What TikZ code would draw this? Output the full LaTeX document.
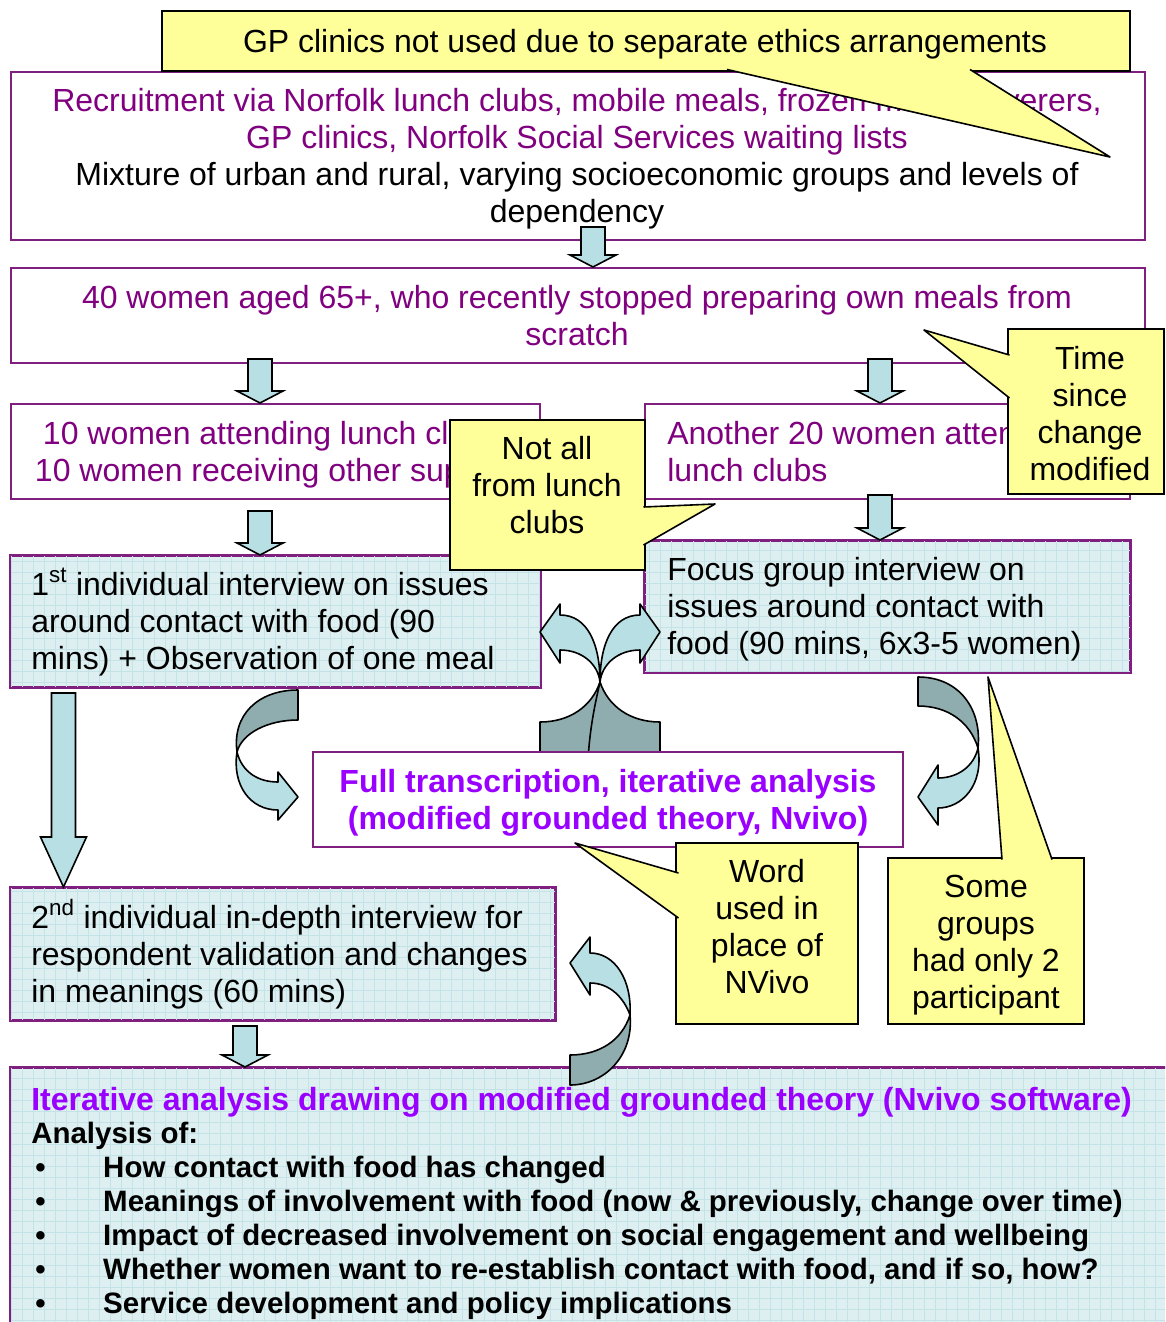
\documentclass[tikz,border=0pt]{standalone}
\usepackage{fontspec}
\setmainfont{Liberation Sans}
\usepackage{tikz}
\usetikzlibrary{calc}
\definecolor{boxpurple}{HTML}{7F1F7F}
\definecolor{textpurple}{HTML}{800080}
\definecolor{brightviolet}{HTML}{9900FF}
\definecolor{gridcyan}{HTML}{DDEFF0}
\definecolor{gridink}{HTML}{C4E3E6}
\definecolor{arrowlight}{HTML}{B8DFE3}
\definecolor{arrowdark}{HTML}{8FADAF}
\definecolor{noteyellow}{HTML}{FFFF99}
% block arrow pointing down, from #2 to #3 (#1 = head length)
\newcommand{\fatdown}[3][9pt]{%
  \path[fatarrow] let \p1=#2, \p2=#3 in
    (\x1-9pt,\y1) -- (\x1+9pt,\y1) -- (\x1+9pt,\y2+#1) -- (\x1+17.25pt,\y2+#1)
    -- (\x1,\y2) -- (\x1-17.25pt,\y2+#1) -- (\x1-9pt,\y2+#1) -- cycle;
}
% squared paper inside a box
\newcommand{\gridlines}[1]{%
  \begin{scope}
    \clip (#1.south west) rectangle (#1.north east);
    \draw[gridrule] (#1.south west) grid[step=8.25pt] (#1.north east);
  \end{scope}
  \draw[boxpurple, line width=1.5pt] (#1.south west) rectangle (#1.north east);
}
% speech bubble tail: base, tip, base
\newcommand{\notepointer}[3]{%
  \fill[noteyellow] #1 -- #2 -- #3 -- cycle;
  \draw[black, line width=1.2pt, line join=round] #1 -- #2 -- #3;
}
\newcommand{\bul}{\makebox[54pt][l]{\hspace{3pt}\textbullet}}

\begin{document}
\begin{tikzpicture}[
  x=0.75pt, y=-0.75pt,
  every node/.style={font=\fontsize{24pt}{27.75pt}\selectfont, inner sep=0pt},
  plainbox/.style={rectangle, draw=boxpurple, line width=1.5pt, fill=white},
  gridbox/.style={rectangle, draw=boxpurple, line width=1.5pt, fill=gridcyan},
  notebox/.style={rectangle, draw=black, line width=1.2pt, fill=noteyellow},
  notetext/.style={align=center, anchor=base},
  lefttext/.style={align=left, anchor=base west},
  fatarrow/.style={draw=black, line width=1.2pt, fill=arrowlight},
  bandlight/.style={draw=black, line width=1.2pt, fill=arrowlight, line join=round},
  banddark/.style={draw=black, line width=1.2pt, fill=arrowdark, line join=round},
  gridrule/.style={draw=gridink, line width=0.5pt}
]
\useasboundingbox (0,0) rectangle (1165,1322);
\clip (0,0) rectangle (1165,1322);

% boxes (text nodes sit on the baseline of their last line)
\node[plainbox, minimum width=850.5pt, minimum height=126pt] (recruit) at (578,156) {};
\node[plainbox, minimum width=850.5pt, minimum height=71.25pt] (women) at (578,315.5) {};
\node[plainbox, minimum width=396.75pt, minimum height=71.25pt] (lunchl) at (275.5,451.5) {};
\node[plainbox, minimum width=363.75pt, minimum height=71.25pt] (another) at (887.5,451.5) {};
\node[gridbox, minimum width=396.75pt, minimum height=98.25pt] (inter1) at (275.5,621.5) {};
\gridlines{inter1}
\node[gridbox, minimum width=363.75pt, minimum height=98.25pt] (focus) at (887.5,606.5) {};
\gridlines{focus}
\node[gridbox, minimum width=408pt, minimum height=99pt] (inter2) at (283,954) {};
\gridlines{inter2}

\node[textpurple, notetext] (recruit-t) at (577,222)
  {Recruitment via Norfolk lunch clubs, mobile meals, frozen meal deliverers,\\
   GP clinics, Norfolk Social Services waiting lists\\
   \textcolor{black}{Mixture of urban and rural, varying socioeconomic groups and levels of}\\
   \textcolor{black}{dependency}};
\node[textpurple, notetext] (women-t) at (577,345)
  {40 women aged 65+, who recently stopped preparing own meals from\\scratch};
\node[textpurple, notetext] (lunchl-t) at (276,481)
  {10 women attending lunch clubs,\\10 women receiving other support};
\node[textpurple, lefttext] (another-t) at (667,481)
  {Another 20 women attending\\lunch clubs};
\node[lefttext] (inter1-t) at (31,669)
  {1\textsuperscript{st} individual interview on issues\\around contact with food (90\\mins) + Observation of one meal};
\node[lefttext] (focus-t) at (667,654)
  {Focus group interview on\\issues around contact with\\food (90 mins, 6x3-5 women)};
\node[lefttext] (inter2-t) at (31,1002)
  {2\textsuperscript{nd} individual in-depth interview for\\respondent validation and changes\\in meanings (60 mins)};

% block arrows
\fatdown{($(recruit.south)+(15,-14)$)}{($(women.north)+(15,0)$)}
\fatdown{($(women.south)+(-318,-5)$)}{($(lunchl.north)+(-15.5,0)$)}
\fatdown{($(women.south)+(302,-5)$)}{($(another.north)+(-7.5,0)$)}
\fatdown{($(lunchl.south)+(-15.5,11)$)}{($(inter1.north)+(-15.5,0)$)}
\fatdown{($(another.south)+(-7.5,-5)$)}{($(focus.north)+(-7.5,0)$)}
\fatdown[37.5pt]{($(inter1.south)+(-212,5)$)}{($(inter2.north)+(-219.5,0)$)}

% crossed arrows towards both interviews
\path[banddark] (600,682) .. controls (592,706) and (570,722) .. (540,722)
  -- (540,760) -- (612,760) .. controls (610,725) and (604,700) .. (600,682) -- cycle;
\path[banddark] (600,682) .. controls (608,706) and (630,722) .. (660,722)
  -- (660,760) -- (588,760) .. controls (590,725) and (596,700) .. (600,682) -- cycle;
\path[bandlight] (540,632) -- (560,604) -- (560,615) .. controls (588,615) and (600,645) .. (600,682)
  .. controls (598,664) and (582,650) .. (560,650) -- (560,663) -- cycle;
\path[bandlight] (660,632) -- (640,604) -- (640,615) .. controls (612,615) and (600,645) .. (600,682)
  .. controls (602,664) and (618,650) .. (640,650) -- (640,663) -- cycle;

% curved arrows into the transcription
\path[banddark] (298,690) -- (298,720) .. controls (268,720) and (242,733) .. (237,752)
  .. controls (232,715) and (258,690) .. (298,690) -- cycle;
\path[bandlight] (237,752) .. controls (242,772) and (258,782) .. (278,782) -- (278,772)
  -- (298,797) -- (278,820) -- (278,810) .. controls (250,810) and (232,785) .. (237,752) -- cycle;
\path[banddark] (918,677) .. controls (960,677) and (982,710) .. (978,748)
  .. controls (970,722) and (948,706) .. (918,706) -- cycle;
\path[bandlight] (978,748) .. controls (984,785) and (962,808) .. (938,808) -- (938,825)
  -- (918,797) -- (938,765) -- (938,778) .. controls (958,778) and (974,766) .. (978,748) -- cycle;

\node[plainbox, minimum width=442.5pt, minimum height=71.25pt] (transcr) at (608,799.5) {};
\node[notetext, text=brightviolet, font=\fontsize{24pt}{27.75pt}\selectfont\bfseries] (transcr-t) at (608,829)
  {Full transcription, iterative analysis\\(modified grounded theory, Nvivo)};

% final analysis
\node[gridbox, minimum width=876.75pt, minimum height=204pt] (analysis) at (595.5,1204) {};
\gridlines{analysis}
\fatdown{($(inter2.south)+(-38,5)$)}{($(analysis.north)+(-350.5,0)$)}
\node[lefttext, text=brightviolet, font=\fontsize{24pt}{27.75pt}\selectfont\bfseries] (analysis-t) at (31,1110)
  {Iterative analysis drawing on modified grounded theory (Nvivo software)};
\node[lefttext, font=\fontsize{22.1pt}{25.5pt}\selectfont\bfseries] (analysis-l) at (31,1313)
  {Analysis of:\\
   \bul How contact with food has changed\\
   \bul Meanings of involvement with food (now \& previously, change over time)\\
   \bul Impact of decreased involvement on social engagement and wellbeing\\
   \bul Whether women want to re-establish contact with food, and if so, how?\\
   \bul Service development and policy implications};

\path[bandlight] (570,963) -- (590,937) -- (590,953) .. controls (615,953) and (632,980) .. (630,1015)
  .. controls (624,998) and (610,983) .. (590,983) -- (590,995) -- cycle;
\path[banddark] (630,1015) .. controls (634,1055) and (605,1085) .. (570,1085)
  -- (570,1055) .. controls (600,1055) and (622,1040) .. (630,1015) -- cycle;

% notes
\node[notebox, minimum width=726pt, minimum height=45pt] (gpnote) at (646,41) {};
\notepointer{(727,69.5)}{(1110,157)}{(970,69.5)}
\node[notetext] (gpnote-t) at (645,52) {GP clinics not used due to separate ethics arrangements};

\node[notebox, minimum width=117pt, minimum height=123.75pt] (timenote) at (1086,411.5) {};
\notepointer{(1009.5,355)}{(924,330)}{(1009.5,398)}
\node[notetext] (timenote-t) at (1090,480) {Time\\since\\change\\modified};

\node[notebox, minimum width=146.25pt, minimum height=112.5pt] (clubnote) at (547.5,495) {};
\notepointer{(643.5,507)}{(715,504)}{(643.5,545)}
\node[notetext] (clubnote-t) at (547,533) {Not all\\from lunch\\clubs};

\node[notebox, minimum width=136.5pt, minimum height=135.75pt] (wordnote) at (767,933.5) {};
\notepointer{(678.5,873)}{(575,843)}{(678.5,918)}
\node[notetext] (wordnote-t) at (767,993) {Word\\used in\\place of\\NVivo};

\node[notebox, minimum width=147pt, minimum height=124.5pt] (groupnote) at (986,941) {};
\notepointer{(1002,859.5)}{(988,677)}{(1052,859.5)}
\node[notetext] (groupnote-t) at (986,1008) {Some\\groups\\had only 2\\participant};

\end{tikzpicture}
\end{document}
